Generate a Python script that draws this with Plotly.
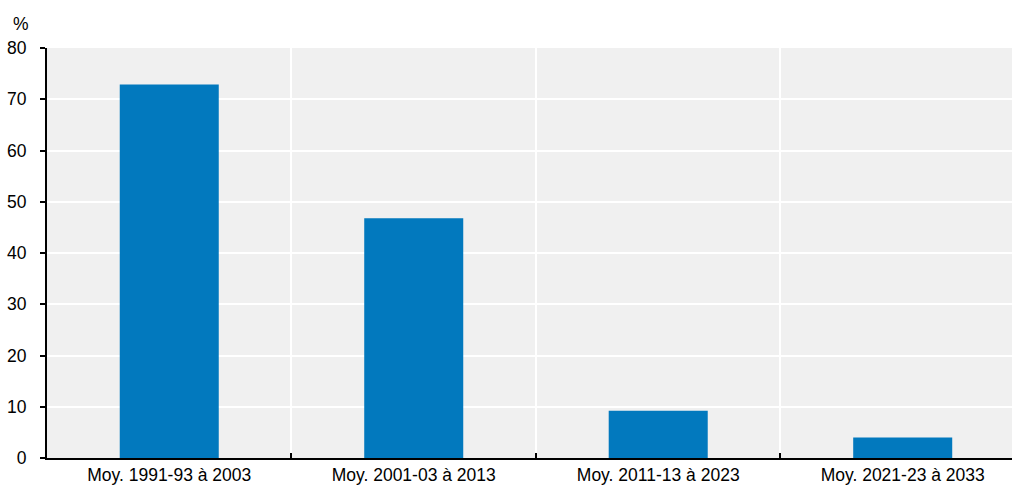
import plotly.graph_objects as go

# Categories and values (%)
categories = ["Moy. 1991-93 à 2003", "Moy. 2001-03 à 2013",
              "Moy. 2011-13 à 2023", "Moy. 2021-23 à 2033"]
values = [72.9, 46.8, 9.2, 4.0]
y_ticks = [0, 10, 20, 30, 40, 50, 60, 70, 80]

FONT = "Liberation Sans, Arial, sans-serif"
FSIZE = 17.5

fig = go.Figure(
    go.Bar(
        x=categories,
        y=values,
        marker=dict(color="#0279be", line=dict(width=0)),
        width=0.405,
        hoverinfo="x+y",
    )
)

fig.update_layout(
    width=1012,
    height=486,
    margin=dict(l=47, r=0, t=48, b=28),
    paper_bgcolor="white",
    plot_bgcolor="#f0f0f0",
    font=dict(family=FONT, size=FSIZE, color="black"),
    showlegend=False,
)

fig.update_xaxes(
    type="category",
    tickson="boundaries",
    ticks="inside",
    ticklen=5,
    tickwidth=2,
    tickcolor="black",
    showgrid=True,
    gridcolor="white",
    gridwidth=2,
    showline=True,
    linecolor="black",
    linewidth=2,
    tickfont=dict(size=FSIZE),
    range=[-0.5, 3.447],
)

fig.update_yaxes(
    range=[0, 80],
    tickvals=y_ticks,
    ticks="outside",
    ticklen=5,
    tickwidth=2,
    tickcolor="black",
    ticklabelstandoff=10,
    showgrid=True,
    gridcolor="white",
    gridwidth=2,
    showline=True,
    linecolor="black",
    linewidth=2,
    zeroline=False,
    tickfont=dict(size=FSIZE),
)

fig.add_annotation(
    text="%",
    xref="paper", yref="paper",
    x=-0.027, y=1.0,
    xanchor="center", yanchor="bottom",
    yshift=12,
    showarrow=False,
    font=dict(family=FONT, size=FSIZE, color="black"),
)

fig.write_html("out.html")
